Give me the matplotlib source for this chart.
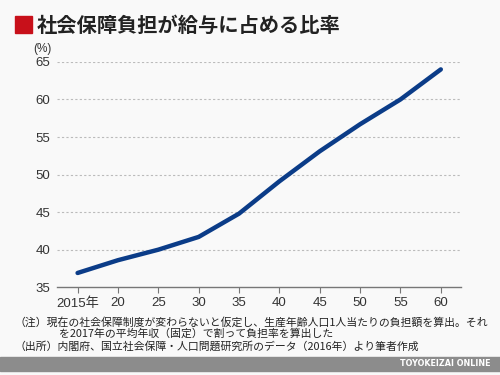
import matplotlib
matplotlib.use("Agg")
import matplotlib.pyplot as plt
from matplotlib.patches import Rectangle

plt.rcParams['font.family'] = ['Noto Sans CJK JP', 'DejaVu Sans']
NUMF = ['Liberation Sans', 'Noto Sans CJK JP']

years = [2015, 2020, 2025, 2030, 2035, 2040, 2045, 2050, 2055, 2060]
ratio = [36.9, 38.6, 40.0, 41.7, 44.8, 49.1, 53.1, 56.7, 60.0, 64.0]
xlabels = ["2015年", "20", "25", "30", "35", "40", "45", "50", "55", "60"]
yticks = [35, 40, 45, 50, 55, 60, 65]

title = "社会保障負担が給与に占める比率"
notes = [
    (15, "（注）現在の社会保障制度が変わらないと仮定し、生産年齢人口1人当たりの負担額を算出。それ"),
    (59, "を2017年の平均年収（固定）で割って負担率を算出した"),
    (15, "（出所）内閣府、国立社会保障・人口問題研究所のデータ（2016年）より筆者作成"),
]

BG = "#f9f9f9"
fig = plt.figure(figsize=(5, 3.75), dpi=100, facecolor=BG)
ax = fig.add_axes([0.114, 0.234, 0.808, 0.601], facecolor=BG)

ax.plot(years, ratio, color="#0b3c88", lw=3.2, solid_capstyle="round", solid_joinstyle="round")

ax.set_xlim(2012.45, 2062.5)
ax.set_ylim(35, 65)
ax.set_yticks(yticks)
ax.set_xticks(years)
ax.set_xticklabels(xlabels, family=NUMF)
ax.set_yticklabels([str(v) for v in yticks], family=NUMF)
ax.tick_params(axis="y", length=0, pad=5, labelsize=9.5, colors="#333333")
ax.tick_params(axis="x", length=4, width=0.8, color="#777777", pad=3, labelsize=9.5,
               labelcolor="#333333")
for y in yticks[1:]:
    ax.axhline(y, color="#bbbbbb", lw=0.8, ls=(0, (2, 2)), zorder=0)
for s in ["top", "right", "left"]:
    ax.spines[s].set_visible(False)
ax.spines["bottom"].set_color("#777777")
ax.spines["bottom"].set_linewidth(1.0)

ax.text(-0.035, 1.03, "(%)", transform=ax.transAxes, fontsize=8.5, color="#333333",
        ha="center", va="bottom", family=NUMF)

# title
fig.patches.append(Rectangle((15 / 500, 1 - 33 / 375), 17 / 500, 17 / 375,
                             transform=fig.transFigure, color="#c8101a"))
fig.text(37 / 500, 1 - 25 / 375, title, fontsize=14.6, fontweight="bold", color="#222222",
         va="center", ha="left")

# notes
for (x0, t), yc in zip(notes, [322.5, 334, 346]):
    fig.text(x0 / 500, 1 - yc / 375, t, fontsize=7.8, color="#222222",
             va="center", ha="left")

# footer band
fig.patches.append(Rectangle((0, 1 - 371 / 375), 1, 14 / 375,
                             transform=fig.transFigure, color="#8c8c8c"))
fig.text(490 / 500, 1 - 364 / 375, "TOYOKEIZAI ONLINE", fontsize=5.8, fontweight="bold",
         color="white", ha="right", va="center", family="DejaVu Sans")

fig.savefig("out.png", dpi=100, facecolor=BG)
